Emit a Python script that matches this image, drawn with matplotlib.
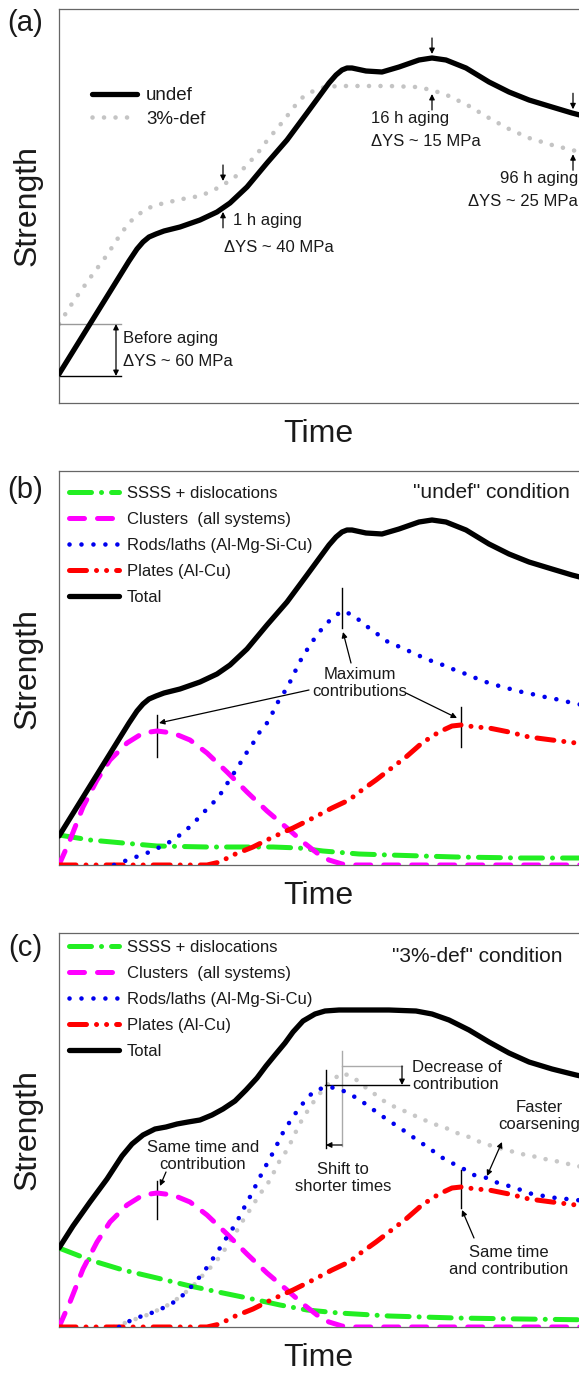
import numpy as np
import matplotlib.pyplot as plt

plt.rcParams['font.family'] = ['Liberation Sans', 'DejaVu Sans']
plt.rcParams['text.color'] = '#1a1a1a'

# schematic values (time / strength in arbitrary units)
# total strength, undeformed
undef_t = [0, 70, 78, 84, 90, 97, 105, 121, 141, 158, 171, 188, 208, 228, 248, 270, 277,
           283, 288, 293, 307, 323, 340, 360, 373, 387, 407, 430, 450, 470, 493, 513, 540]
undef_s = [29, 142, 154, 161, 166, 169, 172, 176, 183, 191, 200, 216, 240, 263, 290, 320, 328,
           333, 335, 335, 332, 331, 336, 343, 345, 343, 335, 321, 311, 303, 296, 290, 283]

# total strength, 3% pre-deformed
def_t = [0, 14, 31, 48, 63, 73, 84, 96, 107, 118, 129, 141, 153, 164, 176, 187, 198, 207,
         216, 226, 234, 244, 256, 266, 280, 300, 330, 357, 373, 390, 410, 430, 450, 470,
         493, 517, 540]
def_s = [79, 101, 125, 148, 171, 183, 192, 198, 200, 203, 205, 207, 212, 218, 226, 237, 249,
         261, 272, 284, 295, 306, 313, 316, 317, 317, 317, 316, 313, 307, 297, 285, 274, 265,
         258, 252, 247]

# SSSS + dislocations
ssss_undef_t = [0, 31, 64, 98, 148, 214, 240, 264, 300, 330, 397, 463, 540]
ssss_undef_s = [30, 25, 22, 19, 18, 18, 17, 14, 11, 10, 8, 7, 7]
ssss_def_t = [0, 31, 64, 98, 131, 164, 198, 221, 248, 280, 330, 397, 463, 540]
ssss_def_s = [79, 67, 57, 49, 41, 34, 27, 22, 17, 14, 11, 9, 8, 7]

# clusters (same in both conditions)
clus_t = [0, 11, 24, 38, 51, 68, 84, 98, 114, 131, 148, 168, 188, 208, 228, 244, 258, 270,
          283, 295, 540]
clus_s = [0, 25, 58, 85, 105, 122, 132, 134, 132, 125, 112, 93, 73, 54, 37, 23, 12, 5,
          1, 0, 0]

# rods / laths
rods_undef_t = [55, 74, 88, 99, 109, 121, 133, 144, 154, 163, 171, 179, 186, 193, 200, 208,
                214, 220, 228, 234, 240, 246, 253, 262, 272, 283, 294, 306, 317, 329, 341,
                352, 363, 375, 387, 398, 410, 421, 433, 444, 455, 467, 478, 490, 502, 513, 540]
rods_undef_s = [0, 7, 12, 17, 22, 30, 40, 52, 62, 73, 86, 98, 110, 120, 132, 142,
                153, 165, 177, 189, 202, 212, 223, 235, 246, 254, 250, 240, 232, 223, 218,
                213, 208, 203, 199, 194, 190, 185, 181, 178, 175, 172, 170, 167, 165, 162, 157]
rods_def_t = [60, 76, 88, 99, 109, 121, 133, 144, 151, 159, 166, 174, 181, 186, 192, 198,
              204, 210, 216, 222, 228, 236, 245, 255, 267, 278, 289, 301, 312, 323, 335,
              347, 358, 370, 382, 393, 403, 415, 428, 439, 450, 462, 473, 485, 497, 508, 517, 540]
rods_def_s = [0, 9, 12, 17, 21, 29, 41, 54, 64, 76, 87, 99, 111, 121, 132, 144,
              156, 167, 178, 191, 201, 213, 225, 236, 240, 239, 234, 227, 219, 211, 203,
              195, 187, 179, 170, 164, 159, 152, 149, 144, 141, 137, 133, 131, 129, 128, 127, 125]

# plates (same in both conditions)
plates_t = [0, 148, 161, 174, 194, 214, 234, 254, 273, 290, 303, 317, 330, 347, 363, 380,
            393, 402, 417, 430, 450, 470, 493, 517, 540]
plates_s = [0, 0, 3, 10, 18, 28, 37, 47, 57, 65, 75, 85, 95, 108, 122, 133,
            139, 140, 138, 137, 133, 128, 125, 122, 120]

W, H = 579, 1374
fig = plt.figure(figsize=(W / 100, H / 100), dpi=100)

BLACK = dict(color='black', lw=3.8, solid_capstyle='round', solid_joinstyle='round')
GRAY = dict(color='#c4c4c4', lw=3.3, ls=(0, (0.01, 2.5)), dash_capstyle='round')
BLUE = dict(color='#0000ee', lw=3.3, ls=(0, (0.01, 2.6)), dash_capstyle='round')
GREEN = dict(color='#22ee22', lw=3.6, ls=(0, (4.4, 2, 0.01, 2)), dash_capstyle='round')
MAGENTA = dict(color='#ff00ff', lw=3.6, ls=(0, (3, 2.6)), dash_capstyle='round')
RED = dict(color='#ff0000', lw=3.6, ls=(0, (3.4, 2, 0.01, 2, 0.01, 2)), dash_capstyle='round')

ARR = dict(arrowstyle='-|>', color='black', lw=0.9, mutation_scale=8, shrinkA=0, shrinkB=0)
ARR2 = dict(arrowstyle='<|-|>', color='black', lw=0.9, mutation_scale=8, shrinkA=0, shrinkB=0)


def make_axes(bottom_px, letter, ly):
    ax = fig.add_axes([59 / W, 1 - bottom_px / H, 540 / W, 394 / H])
    ax.set_xlim(0, 540)
    ax.set_ylim(0, 394)
    ax.set_xticks([])
    ax.set_yticks([])
    for sp in ax.spines.values():
        sp.set_color('#666666')
        sp.set_linewidth(0.9)
    ax.text(0.481, -31 / 394, 'Time', transform=ax.transAxes, ha='center', va='center',
            fontsize=23)
    ax.text(-31 / 540, 0.5, 'Strength', transform=ax.transAxes, ha='center', va='center',
            rotation=90, fontsize=23)
    ax.text(-34 / 540, ly, letter, transform=ax.transAxes, ha='center', va='center',
            fontsize=21)
    return ax


def peak_tick(ax, t, s, lo=22, hi=19):
    i = int(np.argmax(s))
    ax.plot([t[i], t[i]], [s[i] - lo, s[i] + hi], color='black', lw=1)
    return t[i], s[i]


# ---------------- (a) ----------------
ax = make_axes(403, '(a)', 0.965)
ax.plot(def_t, def_s, label='3%-def', zorder=2, **GRAY)
ax.plot(undef_t, undef_s, label='undef', zorder=3, **BLACK)
h, l = ax.get_legend_handles_labels()
ax.legend(h[::-1], l[::-1], loc='upper left', bbox_to_anchor=(0.0606, 0.802),
          borderaxespad=0, borderpad=0, frameon=False, fontsize=13.5, handlelength=2.4,
          handletextpad=0.5, labelspacing=0.36)

# before aging bracket
ax.plot([0, 62], [def_s[0], def_s[0]], color='#999999', lw=1)
ax.plot([0, 62], [undef_s[0] - 2, undef_s[0] - 2], color='black', lw=1)
ax.annotate('', xy=(57, def_s[0]), xytext=(57, undef_s[0] - 2), arrowprops=ARR2)
ax.text(64, 64, 'Before aging', fontsize=12, va='center')
ax.text(64, 41, '\u0394YS ~ 60 MPa', fontsize=12, va='center')

# aging-time arrows
for t in (164, 373, 514):
    a = np.interp(t, undef_t, undef_s)
    b = np.interp(t, def_t, def_s)
    top, bot = max(a, b), min(a, b)
    ax.annotate('', xy=(t, top + 4), xytext=(t, top + 20), arrowprops=ARR)
    ax.annotate('', xy=(t, bot - 4), xytext=(t, bot - 20), arrowprops=ARR)

ax.text(174, 183, '1 h aging', fontsize=12, va='center')
ax.text(165, 156, '\u0394YS ~ 40 MPa', fontsize=12, va='center')
ax.text(312, 285, '16 h aging', fontsize=12, va='center')
ax.text(312, 261, '\u0394YS ~ 15 MPa', fontsize=12, va='center')
ax.text(519, 225, '96 h aging', fontsize=12, va='center', ha='right')
ax.text(519, 201, '\u0394YS ~ 25 MPa', fontsize=12, va='center', ha='right')


def components(ax, ssss_t, ssss_s, rods_t, rods_s, total_t, total_s, leg_y):
    ax.plot(ssss_t, ssss_s, label='SSSS + dislocations', zorder=3, **GREEN)
    ax.plot(clus_t, clus_s, label='Clusters  (all systems)', zorder=3, **MAGENTA)
    ax.plot(rods_t, rods_s, label='Rods/laths (Al-Mg-Si-Cu)', zorder=4, **BLUE)
    ax.plot(plates_t, plates_s, label='Plates (Al-Cu)', zorder=3, **RED)
    ax.plot(total_t, total_s, label='Total', zorder=5, **BLACK)
    ax.legend(loc='upper left', bbox_to_anchor=(0.019, leg_y), borderaxespad=0,
              borderpad=0, frameon=False, fontsize=12, handlelength=3.0,
              handletextpad=0.45, labelspacing=0.66)


# ---------------- (b) ----------------
ax = make_axes(865, '(b)', 0.951)
components(ax, ssss_undef_t, ssss_undef_s, rods_undef_t, rods_undef_s, undef_t, undef_s,
           0.962)
ax.text(432, 373, '"undef" condition', fontsize=15, ha='center', va='center')
ct, cs = peak_tick(ax, clus_t, clus_s, 26, 16)
rt, rs = peak_tick(ax, rods_undef_t, rods_undef_s, 17, 23)
pt, ps = peak_tick(ax, plates_t, plates_s, 22, 18)
ax.text(301, 182, 'Maximum\ncontributions', fontsize=12, ha='center', va='center')
ax.annotate('', xy=(ct + 2, cs + 8), xytext=(250, 175), arrowprops=ARR)
ax.annotate('', xy=(rt + 1, rs - 21), xytext=(292, 202), arrowprops=ARR)
ax.annotate('', xy=(pt - 4, ps + 7), xytext=(347, 172), arrowprops=ARR)

# ---------------- (c) ----------------
ax = make_axes(1327, '(c)', 0.961)
ax.plot(rods_undef_t, rods_undef_s, zorder=2, **dict(GRAY, color='#c8c8c8'))
components(ax, ssss_def_t, ssss_def_s, rods_def_t, rods_def_s, def_t, def_s, 0.982)
ax.text(418, 371, '"3%-def" condition', fontsize=15, ha='center', va='center')

ct, cs = peak_tick(ax, clus_t, clus_s, 26, 12)
ax.text(144, 171, 'Same time and\ncontribution', fontsize=12, ha='center', va='center')
ax.annotate('', xy=(ct + 3, cs + 7), xytext=(107, 155), arrowprops=ARR)

# shift of the rods peak
i_u = int(np.argmax(rods_undef_s))
i_d = int(np.argmax(rods_def_s))
gt, gs = rods_undef_t[i_u], rods_undef_s[i_u]
bt, bs = rods_def_t[i_d], rods_def_s[i_d]
ax.plot([gt, gt], [181, gs + 22], color='#aaaaaa', lw=1)
ax.plot([bt, bt], [179, bs + 17], color='black', lw=1)
ax.annotate('', xy=(bt, 182), xytext=(gt, 182), arrowprops=ARR)
ax.text(284, 149, 'Shift to\nshorter times', fontsize=12, ha='center', va='center')
ax.plot([gt, 343], [gs + 7, gs + 7], color='#aaaaaa', lw=1)
ax.plot([bt - 1, 350], [bs + 2, bs + 2], color='black', lw=1)
ax.annotate('', xy=(343, bs + 2), xytext=(343, gs + 7), arrowprops=ARR)
ax.text(353, 251, 'Decrease of\ncontribution', fontsize=12, ha='left', va='center')

ax.text(480, 211, 'Faster\ncoarsening', fontsize=12, ha='center', va='center')
ax.annotate('', xy=(428, 151), xytext=(443, 185), arrowprops=ARR2)

pt, ps = peak_tick(ax, plates_t, plates_s, 21, 17)
ax.annotate('', xy=(pt + 1, ps - 23), xytext=(415, 89), arrowprops=ARR)
ax.text(450, 66, 'Same time\nand contribution', fontsize=12, ha='center', va='center')

fig.savefig('out.png', dpi=100)
